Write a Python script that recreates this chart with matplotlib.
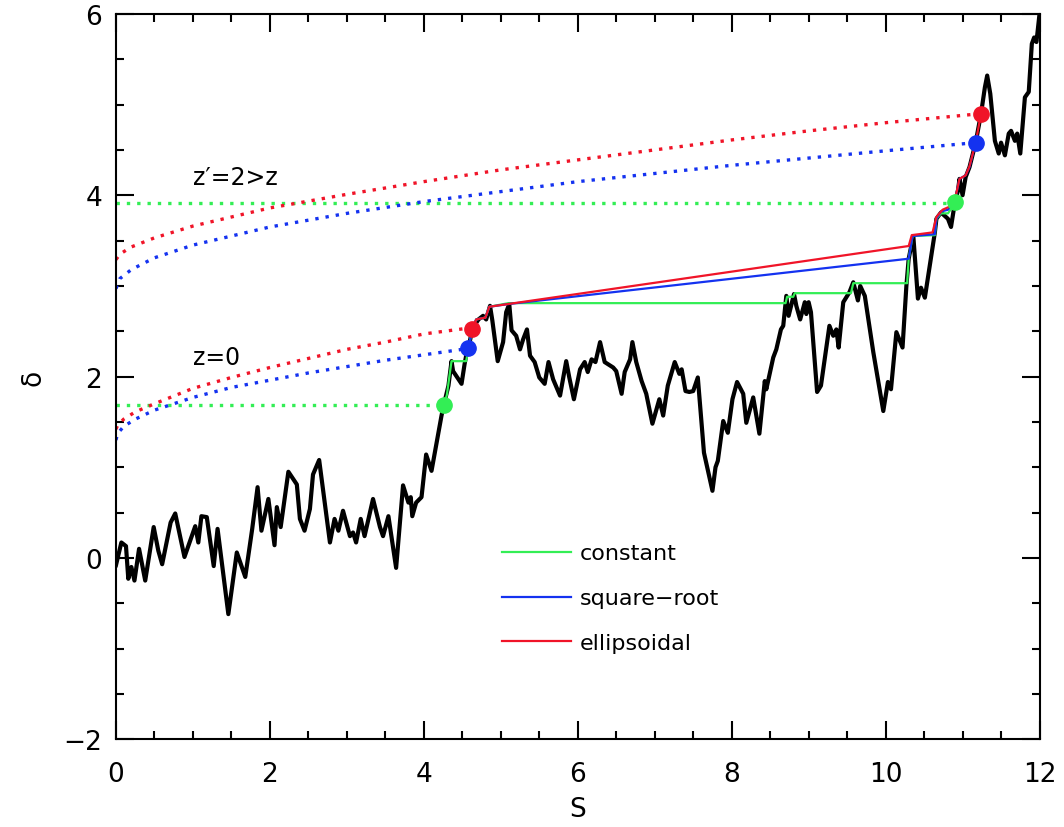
#!/usr/bin/env python3
"""Random walk in S with constant / square-root / ellipsoidal barriers at z=0 and z'=2."""
import matplotlib
matplotlib.use("Agg")
import matplotlib.pyplot as plt
from matplotlib.ticker import MultipleLocator

# random walk (S, delta)
walk_s = [0.00, 0.07, 0.13, 0.16, 0.20, 0.24, 0.30, 0.38, 0.49, 0.55, 0.60, 0.71, 0.77, 0.89,
          1.03, 1.07, 1.11, 1.18, 1.27, 1.32, 1.46, 1.57, 1.68, 1.77, 1.84, 1.89, 1.98, 2.06,
          2.09, 2.14, 2.24, 2.35, 2.39, 2.45, 2.52, 2.56, 2.64, 2.78, 2.84, 2.89, 2.95, 3.04,
          3.08, 3.12, 3.18, 3.23, 3.34, 3.43, 3.47, 3.54, 3.64, 3.73, 3.80, 3.83, 3.85, 3.90,
          3.97, 4.03, 4.10, 4.16, 4.23, 4.26, 4.32, 4.36, 4.38, 4.49, 4.53, 4.55, 4.58, 4.63,
          4.71, 4.77, 4.81, 4.86, 4.89, 4.96, 5.03, 5.07, 5.11, 5.14, 5.20, 5.25, 5.29, 5.34,
          5.38, 5.44, 5.50, 5.57, 5.62, 5.68, 5.77, 5.85, 5.89, 5.95, 6.03, 6.09, 6.13, 6.18,
          6.23, 6.29, 6.35, 6.46, 6.50, 6.57, 6.61, 6.68, 6.71, 6.76, 6.83, 6.89, 6.97, 7.06,
          7.11, 7.17, 7.26, 7.32, 7.35, 7.40, 7.45, 7.50, 7.56, 7.64, 7.75, 7.79, 7.82, 7.89,
          7.95, 8.01, 8.07, 8.15, 8.19, 8.28, 8.36, 8.43, 8.45, 8.54, 8.58, 8.64, 8.67, 8.71,
          8.74, 8.81, 8.84, 8.89, 8.95, 8.97, 9.00, 9.03, 9.11, 9.16, 9.27, 9.32, 9.36, 9.39,
          9.45, 9.53, 9.58, 9.64, 9.67, 9.73, 9.84, 9.97, 10.03, 10.07, 10.14, 10.22, 10.27,
          10.30, 10.36, 10.42, 10.46, 10.51, 10.57, 10.64, 10.66, 10.72, 10.81, 10.85, 10.90,
          10.94, 10.96, 11.00, 11.04, 11.09, 11.17, 11.24, 11.29, 11.32, 11.36, 11.42, 11.47,
          11.50, 11.55, 11.60, 11.63, 11.68, 11.71, 11.75, 11.81, 11.86, 11.90, 11.93, 11.96,
          12.00]
walk_d = [-0.08, 0.17, 0.13, -0.23, -0.10, -0.25, 0.10, -0.25, 0.34, 0.08, -0.07, 0.39, 0.49, 0.01,
          0.35, 0.17, 0.46, 0.45, -0.09, 0.32, -0.62, 0.06, -0.21, 0.32, 0.78, 0.30, 0.65, 0.14,
          0.56, 0.34, 0.95, 0.81, 0.43, 0.30, 0.54, 0.92, 1.08, 0.17, 0.43, 0.30, 0.52, 0.24,
          0.28, 0.17, 0.43, 0.24, 0.65, 0.34, 0.24, 0.46, -0.11, 0.80, 0.61, 0.67, 0.46, 0.61,
          0.67, 1.14, 0.96, 1.24, 1.57, 1.69, 1.90, 2.17, 2.06, 1.92, 2.14, 2.23, 2.31, 2.53,
          2.63, 2.67, 2.63, 2.78, 2.62, 2.17, 2.38, 2.71, 2.80, 2.51, 2.45, 2.30, 2.41, 2.52,
          2.23, 2.16, 1.99, 1.92, 2.16, 1.97, 1.79, 2.17, 1.99, 1.75, 2.08, 2.16, 2.05, 2.19,
          2.16, 2.38, 2.16, 2.10, 2.06, 1.81, 2.05, 2.19, 2.38, 2.16, 1.95, 1.81, 1.48, 1.75,
          1.57, 1.90, 2.16, 2.03, 2.08, 1.84, 1.83, 1.84, 1.99, 1.16, 0.74, 1.00, 1.07, 1.51,
          1.38, 1.75, 1.94, 1.81, 1.49, 1.77, 1.37, 1.95, 1.86, 2.21, 2.30, 2.52, 2.56, 2.89,
          2.67, 2.91, 2.78, 2.63, 2.82, 2.69, 2.82, 2.71, 1.83, 1.90, 2.56, 2.45, 2.52, 2.32,
          2.82, 2.93, 3.04, 2.84, 3.00, 2.89, 2.27, 1.62, 1.94, 1.86, 2.49, 2.32, 3.00,
          3.30, 3.55, 2.86, 2.98, 2.87, 3.20, 3.59, 3.74, 3.81, 3.74, 3.65, 3.92,
          4.05, 4.18, 4.00, 4.20, 4.31, 4.58, 4.90, 5.19, 5.32, 5.12, 4.60, 4.46,
          4.58, 4.44, 4.68, 4.71, 4.60, 4.68, 4.46, 5.08, 5.14, 5.67, 5.74, 5.69,
          6.00]

# barrier heights
dc_z0 = 1.686
dc_z2 = 3.91

# square-root (blue) and ellipsoidal (red) barriers, z=0
lo_blue_s = [0, 0.02, 0.1, 0.25, 0.5, 1, 1.5, 2, 2.5, 3, 3.5, 4, 4.58]
lo_blue_d = [1.30, 1.37, 1.45, 1.53, 1.63, 1.77, 1.88, 1.96, 2.04, 2.11, 2.18, 2.24, 2.31]
lo_red_s = [0, 0.02, 0.1, 0.25, 0.5, 1, 1.5, 2, 2.5, 3, 3.5, 4, 4.63]
lo_red_d = [1.42, 1.46, 1.53, 1.61, 1.70, 1.87, 1.99, 2.10, 2.20, 2.30, 2.38, 2.47, 2.54]

# same barriers, z'=2
up_blue_s = [0, 0.05, 0.2, 0.5, 1, 2, 3, 4, 5, 6, 7, 8, 9, 10, 11.17]
up_blue_d = [2.97, 3.08, 3.18, 3.31, 3.45, 3.65, 3.80, 3.93, 4.04, 4.15, 4.24, 4.33, 4.41, 4.49, 4.58]
up_red_s = [0, 0.05, 0.2, 0.5, 1, 2, 3, 4, 5, 6, 7, 8, 9, 10, 11.24]
up_red_d = [3.29, 3.35, 3.43, 3.53, 3.66, 3.86, 4.01, 4.15, 4.28, 4.39, 4.50, 4.61, 4.71, 4.80, 4.90]

# paths between the two first crossings
green_s = [4.26, 4.30, 4.34, 4.36, 4.55, 4.58, 4.63, 4.68, 4.80, 4.85, 5.10, 8.70, 8.72, 8.80,
           8.82, 9.55, 9.58, 10.28, 10.30, 10.35, 10.64, 10.66, 10.72, 10.81, 10.86, 10.90]
green_d = [1.686, 1.80, 2.05, 2.17, 2.17, 2.31, 2.53, 2.63, 2.65, 2.77, 2.81, 2.81, 2.88, 2.88,
           2.92, 2.92, 3.03, 3.03, 3.30, 3.55, 3.56, 3.74, 3.80, 3.80, 3.86, 3.92]
blue_s = [4.58, 4.63, 4.68, 4.80, 4.85, 5.10, 10.30, 10.35, 10.64, 10.66, 10.72, 10.81, 10.90,
          10.96, 11.04, 11.09, 11.17]
blue_d = [2.31, 2.53, 2.63, 2.65, 2.77, 2.80, 3.30, 3.55, 3.57, 3.74, 3.82, 3.84, 3.94,
          4.18, 4.22, 4.31, 4.58]
red_s = [4.63, 4.68, 4.80, 4.85, 10.30, 10.34, 10.61, 10.66, 10.74, 10.82, 10.90, 10.96,
         11.04, 11.09, 11.17, 11.24]
red_d = [2.53, 2.63, 2.65, 2.77, 3.44, 3.56, 3.59, 3.76, 3.84, 3.87, 3.95, 4.18,
         4.22, 4.32, 4.58, 4.90]

# first-crossing points: (S, delta) for constant, square-root, ellipsoidal
hit_s_z0 = [4.26, 4.58, 4.63]
hit_d_z0 = [1.686, 2.31, 2.53]
hit_s_z2 = [10.90, 11.17, 11.24]
hit_d_z2 = [3.92, 4.58, 4.90]

GREEN = "#33ee55"
BLUE = "#1432f0"
RED = "#f01428"
DOT = (0, (1, 2.1))

plt.rcParams["font.family"] = ["DejaVu Sans"]
fig = plt.figure(figsize=(10.64, 8.28), dpi=100)
ax = fig.add_axes([0.109, 0.106, 0.868, 0.876])

ax.plot(walk_s, walk_d, color="black", lw=3, zorder=3)

# dotted barriers
ax.plot([0, hit_s_z0[0]], [dc_z0, dc_z0], color=GREEN, ls=DOT, lw=2.4, zorder=2)
ax.plot([0, hit_s_z2[0]], [dc_z2, dc_z2], color=GREEN, ls=DOT, lw=2.4, zorder=2)
ax.plot(lo_blue_s, lo_blue_d, color=BLUE, ls=DOT, lw=2.4, zorder=2)
ax.plot(lo_red_s, lo_red_d, color=RED, ls=DOT, lw=2.4, zorder=2)
ax.plot(up_blue_s, up_blue_d, color=BLUE, ls=DOT, lw=2.4, zorder=2)
ax.plot(up_red_s, up_red_d, color=RED, ls=DOT, lw=2.4, zorder=2)

# paths
l_g, = ax.plot(green_s, green_d, color=GREEN, lw=1.6, zorder=4, label="constant")
l_b, = ax.plot(blue_s, blue_d, color=BLUE, lw=1.6, zorder=5, label="square\u2212root")
l_r, = ax.plot(red_s, red_d, color=RED, lw=1.6, zorder=6, label="ellipsoidal")

for i, c in enumerate([GREEN, BLUE, RED]):
    ax.plot([hit_s_z0[i], hit_s_z2[i]], [hit_d_z0[i], hit_d_z2[i]], ls="none",
            marker="o", ms=11, color=c, zorder=7)

ax.text(1.0, 4.2, "z\u2032=2>z", fontsize=17, va="center", ha="left")
ax.text(1.0, 2.22, "z=0", fontsize=17, va="center", ha="left")

ax.legend(handles=[l_g, l_b, l_r], loc="upper left", bbox_to_anchor=(0.418, 0.270),
          frameon=False, fontsize=16, handlelength=3.1, handletextpad=0.4,
          labelspacing=1.12, borderpad=0, borderaxespad=0)

ax.set_xlim(0, 12)
ax.set_ylim(-2, 6)
ax.xaxis.set_major_locator(MultipleLocator(2))
ax.xaxis.set_minor_locator(MultipleLocator(0.5))
ax.yaxis.set_major_locator(MultipleLocator(2))
ax.yaxis.set_minor_locator(MultipleLocator(0.5))
ax.tick_params(which="both", direction="in", top=True, right=True, width=1.5)
ax.tick_params(which="major", length=13, labelsize=19)
ax.tick_params(which="minor", length=6)
ax.tick_params(axis="x", which="major", pad=16)
ax.tick_params(axis="y", which="major", pad=10)
for sp in ax.spines.values():
    sp.set_linewidth(1.5)

ax.set_xlabel("S", fontsize=19, labelpad=6)
ax.set_ylabel("\u03b4", fontsize=19, labelpad=12)

fig.savefig("out.png", dpi=100)
